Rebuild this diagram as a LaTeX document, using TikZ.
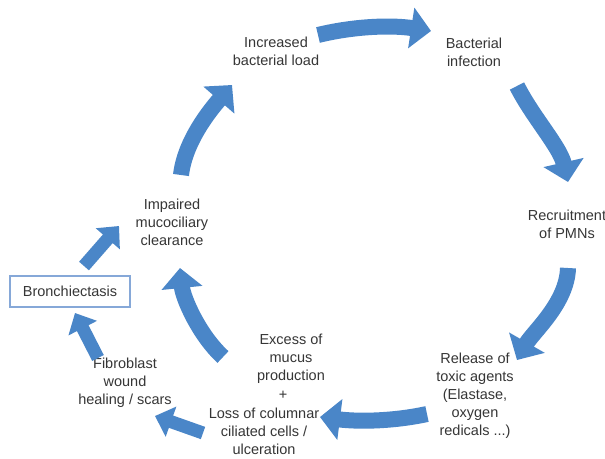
\documentclass[tikz,border=0pt]{standalone}
\usepackage{fontspec}
\setmainfont{Liberation Sans}
\usetikzlibrary{arrows.meta}
\definecolor{arrowblue}{HTML}{4A86C8}
\definecolor{txt}{HTML}{363636}
\definecolor{boxline}{HTML}{86A8D8}
\begin{document}
\begin{tikzpicture}[x=1pt,y=-1pt,
  lbl/.style={font=\fontsize{14.5}{18}\selectfont, text=txt, align=center, inner sep=0pt},
  bigarrow/.style={draw=arrowblue, line width=16pt, -{Triangle[width=40pt,length=20pt]}},
  smallarrow/.style={draw=arrowblue, line width=13pt, -{Triangle[width=31pt,length=17pt]}}]
\useasboundingbox[fill=white] (0,0) rectangle (605,458);

% text nodes
\node[lbl] (inc) at (276,51) {Increased\\bacterial load};
\node[lbl] (bac) at (474,52) {Bacterial\\infection};
\node[lbl] (rec) at (567,224) {Recruitment\\of PMNs};
\node[lbl] (rel) at (475,396) {Release of\\toxic agents\\(Elastase,\\oxygen\\redicals ...)};
\node[lbl] (exc) at (291,359) {Excess of\\mucus\\production};
\node[lbl] (plus) at (283,395) {+};
\node[lbl] (loss) at (264,431) {Loss of columnar\\ciliated cells /\\ulceration};
\node[lbl] (fib) at (125,383) {Fibroblast\\wound\\healing / scars};
\node[lbl] (imp) at (172,222) {Impaired\\mucociliary\\clearance};
\node[lbl, draw=boxline, line width=1.2pt, minimum width=120pt, minimum height=31pt] (bro) at (70,291.5) {Bronchiectasis};

% arrow end points
\coordinate (a1s) at (318,35);  \coordinate (a1e) at (431,31);
\coordinate (a2s) at (517,86);  \coordinate (a2e) at (568,182);
\coordinate (a3s) at (568,268); \coordinate (a3e) at (517,360);
\coordinate (a4s) at (427,414); \coordinate (a4e) at (320,417);
\coordinate (a5s) at (223,357); \coordinate (a5e) at (180,268);
\coordinate (a6s) at (181,175); \coordinate (a6e) at (232,85);
\coordinate (a7s) at (84,266);  \coordinate (a7e) at (119,226);
\coordinate (a8s) at (98,358);  \coordinate (a8e) at (75,313);
\coordinate (a9s) at (203,433); \coordinate (a9e) at (155,416);

% arrows
\draw[bigarrow] (a1s) .. controls (355,26) and (392,25) .. (a1e);
\draw[bigarrow] (a2s) .. controls (532,116) and (560,147) .. (a2e);
\draw[bigarrow] (a3s) .. controls (567,303) and (533,332) .. (a3e);
\draw[bigarrow] (a4s) .. controls (395,421) and (360,422) .. (a4e);
\draw[bigarrow] (a5s) .. controls (199,335) and (183,298) .. (a5e);
\draw[bigarrow] (a6s) .. controls (185,140) and (212,108) .. (a6e);
\draw[smallarrow] (a7s) -- (a7e);
\draw[smallarrow] (a8s) -- (a8e);
\draw[smallarrow] (a9s) -- (a9e);
\end{tikzpicture}
\end{document}
